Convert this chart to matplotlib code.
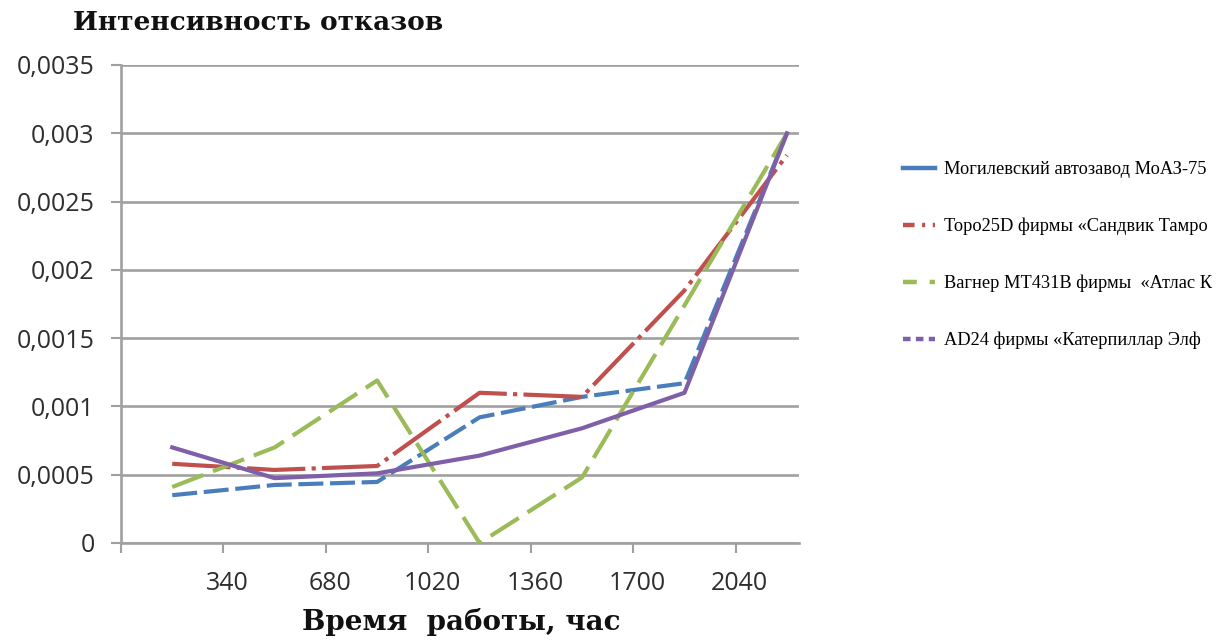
import matplotlib
matplotlib.use("Agg")
import matplotlib.pyplot as plt
from matplotlib.lines import Line2D
from matplotlib.ticker import FuncFormatter
from matplotlib.transforms import ScaledTranslation

# Operating time (hours, interval midpoints) and failure rates
hours = [170, 510, 850, 1190, 1530, 1870, 2210]
tick_hours = [0, 340, 680, 1020, 1360, 1700, 2040]
tick_labels = ["", "340", "680", "1020", "1360", "1700", "2040"]

moaz = [0.00035, 0.000425, 0.000447, 0.00092, 0.00107, 0.00117, 0.0030]
toro = [0.00058, 0.000535, 0.000564, 0.00110, 0.00107, 0.00185, 0.00284]
wagner = [0.00041, 0.00070, 0.00119, 0.0, 0.00048, 0.00174, 0.0030]
ad24 = [0.00070, 0.000475, 0.00051, 0.00064, 0.00084, 0.00110, 0.0030]

series_names = [
    "Могилевский автозавод МоАЗ-75",
    "Торо25D фирмы «Сандвик Тамро",
    "Вагнер МТ431В фирмы  «Атлас К",
    "AD24 фирмы «Катерпиллар Элф",
]
colors = ["#4a7ebb", "#c0504d", "#9bbb59", "#7f60a8"]

fig = plt.figure(figsize=(12.19, 6.41), dpi=100)
ax = fig.add_axes([121 / 1219, 1 - 543 / 641, (799 - 121) / 1219, (543 - 65) / 641])

lw = 3.0
ax.plot(hours, moaz, color=colors[0], lw=lw, dashes=(6, 1.6), zorder=3)
ax.plot(hours, toro, color=colors[1], lw=lw, dashes=(14, 1.5, 1, 1.5), zorder=3)
ax.plot(hours, wagner, color=colors[2], lw=lw, dashes=(8, 2.5), zorder=3)
ax.plot(hours, ad24, color=colors[3], lw=lw, zorder=4)

ax.set_xlim(0, 2250)
ax.set_ylim(0, 0.0035)
ax.set_xticks(tick_hours)
ax.set_xticklabels(tick_labels)
ax.set_yticks([i * 0.0005 for i in range(8)])
ax.yaxis.set_major_formatter(
    FuncFormatter(lambda v, _: "0" if v == 0 else f"{v:.4f}".rstrip("0").replace(".", ","))
)

grid_c = "#a0a0a0"
ax.grid(axis="y", color=grid_c, lw=1.9)
ax.set_axisbelow(True)
for s in ["top", "right"]:
    ax.spines[s].set_visible(False)
for s in ["left", "bottom"]:
    ax.spines[s].set_color(grid_c)
    ax.spines[s].set_linewidth(1.9)

ax.tick_params(axis="both", direction="out", length=7, width=1.5, color=grid_c,
               labelsize=18, labelcolor="#2e2e2e")
ax.tick_params(axis="y", pad=12)
ax.tick_params(axis="x", pad=13)
shift = ScaledTranslation(4 / 100, 0, fig.dpi_scale_trans)
for t in ax.get_xticklabels():
    t.set_family("Open Sans")
    t.set_transform(t.get_transform() + shift)
for t in ax.get_yticklabels():
    t.set_family("Open Sans")

fig.text(73 / 1219, 1 - 30 / 641, "Интенсивность отказов", family="DejaVu Serif",
         weight="bold", fontsize=19, ha="left", va="baseline", color="#111111")
fig.text(461 / 1219, 1 - 630 / 641, "Время  работы, час", family="DejaVu Serif",
         weight="bold", fontsize=20, ha="center", va="baseline", color="#111111")

handles = [
    Line2D([], [], color=colors[0], lw=3.2),
    Line2D([], [], color=colors[1], lw=3.2, dashes=(2.6, 1.7, 0.7, 1.7)),
    Line2D([], [], color=colors[2], lw=3.2, dashes=(3.1, 2.9)),
    Line2D([], [], color=colors[3], lw=3.2, dashes=(1.7, 1.2)),
]
leg = fig.legend(handles, series_names, loc="upper left",
                 bbox_to_anchor=(896 / 1219, 1 - 154 / 641),
                 frameon=False, handlelength=1.7, handletextpad=0.5,
                 labelspacing=2.15, borderaxespad=0,
                 prop={"family": "Liberation Serif", "size": 13.2})

fig.savefig("out.png", dpi=100)
